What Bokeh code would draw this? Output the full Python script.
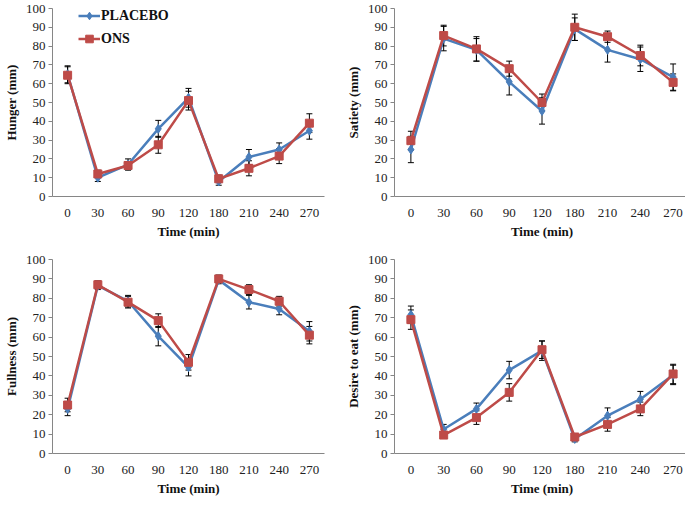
from bokeh.plotting import figure
from bokeh.models import FactorRange, ColumnDataSource, Whisker, TeeHead, Legend, LegendItem, Range1d, FixedTicker
from bokeh.layouts import column, row
from bokeh.embed import file_html
from bokeh.resources import INLINE

times = ["0", "30", "60", "90", "120", "180", "210", "240", "270"]

hunger_placebo = [65, 10, 17, 36, 52.5, 8, 21, 25, 35]
hunger_placebo_err = [4.5, 2, 3, 4.5, 5, 2, 4, 3.5, 4.5]
hunger_ons = [64.5, 12, 16.5, 27.5, 51, 9.4, 15, 21.5, 39]
hunger_ons_err = [4.5, 2, 2, 4.5, 5, 2, 4, 4, 5]

satiety_placebo = [25, 84, 78, 61, 45.5, 89, 78, 73, 63.5]
satiety_placebo_err = [7, 6.5, 6, 7, 7, 6, 6.5, 6.5, 7]
satiety_ons = [29.7, 85.6, 78.5, 68, 50, 90, 85, 75, 60.7]
satiety_ons_err = [5, 5.5, 6.5, 4, 4.5, 7, 3, 5.5, 4.5]

fullness_placebo = [23, 86.5, 78.5, 60.5, 44.5, 89.5, 78, 74.5, 63]
fullness_placebo_err = [3.5, 2, 3, 5, 4.5, 2, 3.5, 3, 5]
fullness_ons = [25, 87, 78, 68.5, 47, 90, 84.5, 78.5, 61]
fullness_ons_err = [3.5, 2, 3, 3.5, 4, 2, 2.5, 2.5, 4.5]

desire_placebo = [71.5, 12.5, 23, 43, 53, 7.5, 19.5, 28, 40.5]
desire_placebo_err = [4.5, 2.5, 3, 4.5, 5, 1.5, 4, 4, 5]
desire_ons = [69, 9.5, 18.5, 31.5, 53.5, 8.5, 15, 23, 41]
desire_ons_err = [5, 1.5, 3.5, 4.5, 4.5, 1.5, 3.5, 3.5, 5]

y_ticks = [0, 10, 20, 30, 40, 50, 60, 70, 80, 90, 100]

BLUE = "#4a7ebb"
RED = "#be4b48"
FONT = "Liberation Serif"


def make_panel(ylabel, placebo, p_err, ons, o_err, fw, fh, bl, br, bt, bb, legend=False):
    p = figure(x_range=FactorRange(factors=times, range_padding=0),
               y_range=Range1d(0, 100),
               frame_width=fw, frame_height=fh,
               min_border_left=bl, min_border_right=br,
               min_border_top=bt, min_border_bottom=bb,
               output_backend="svg", toolbar_location=None)
    p.outline_line_color = None
    p.xgrid.visible = False
    p.ygrid.visible = False
    p.background_fill_color = "white"
    p.border_fill_color = "white"

    for ax in (p.xaxis[0], p.yaxis[0]):
        ax.axis_line_color = "#868686"
        ax.axis_line_width = 1
        ax.major_label_text_font = FONT
        ax.major_label_text_font_size = "13px"
        ax.major_label_text_color = "#222222"
        ax.axis_label_text_font = FONT
        ax.axis_label_text_font_style = "bold"
        ax.axis_label_text_font_size = "13px"
        ax.axis_label_text_color = "#111111"
        ax.minor_tick_line_color = None

    p.xaxis.major_tick_line_color = None
    p.xaxis.major_label_standoff = 6
    p.xaxis.axis_label = "Time (min)"
    p.xaxis.axis_label_standoff = 4

    p.yaxis.ticker = FixedTicker(ticks=y_ticks)
    p.yaxis.major_tick_line_color = "#868686"
    p.yaxis.major_tick_out = 4
    p.yaxis.major_tick_in = 0
    p.yaxis.major_label_standoff = 3
    p.yaxis.axis_label = ylabel
    p.yaxis.axis_label_standoff = 4

    items = []
    for name, vals, errs, color, marker, msize in (
        ("PLACEBO", placebo, p_err, BLUE, "diamond", 9),
        ("ONS", ons, o_err, RED, "square", 8),
    ):
        src = ColumnDataSource(dict(
            x=times, y=vals,
            lo=[v - e for v, e in zip(vals, errs)],
            hi=[v + e for v, e in zip(vals, errs)],
        ))
        ln = p.line("x", "y", source=src, line_color=color, line_width=2.5)
        wh = Whisker(base="x", lower="lo", upper="hi", source=src,
                     line_color="black", line_width=1,
                     upper_head=TeeHead(size=6, line_color="black", line_width=1),
                     lower_head=TeeHead(size=6, line_color="black", line_width=1))
        p.add_layout(wh)
        sc = p.scatter("x", "y", source=src, marker=marker, size=msize,
                       fill_color=color, line_color=color)
        items.append(LegendItem(label=name, renderers=[ln, sc]))

    if legend:
        lg = Legend(items=items, location=(26, fh - 42 + 2),
                    orientation="vertical", padding=0, spacing=4,
                    label_height=19, glyph_height=19, glyph_width=22,
                    label_standoff=1, margin=0,
                    border_line_color=None, background_fill_alpha=0,
                    label_text_font=FONT, label_text_font_style="bold",
                    label_text_font_size="14px", label_text_color="#111111")
        p.add_layout(lg, "center")
    return p


p1 = make_panel("Hunger (mm)", hunger_placebo, hunger_placebo_err, hunger_ons, hunger_ons_err,
                fw=272, fh=188, bl=40, br=18, bt=8, bb=44, legend=True)
p2 = make_panel("Satiety (mm)", satiety_placebo, satiety_placebo_err, satiety_ons, satiety_ons_err,
                fw=295, fh=188, bl=42, br=2, bt=8, bb=44)
p3 = make_panel("Fullness (mm)", fullness_placebo, fullness_placebo_err, fullness_ons, fullness_ons_err,
                fw=272, fh=194, bl=40, br=18, bt=18, bb=44)
p4 = make_panel("Desire to eat (mm)", desire_placebo, desire_placebo_err, desire_ons, desire_ons_err,
                fw=295, fh=194, bl=42, br=2, bt=18, bb=44)

layout = column(row(p1, p2, spacing=0), row(p3, p4, spacing=0), spacing=0)

open("out.html", "w").write(file_html(layout, INLINE))
